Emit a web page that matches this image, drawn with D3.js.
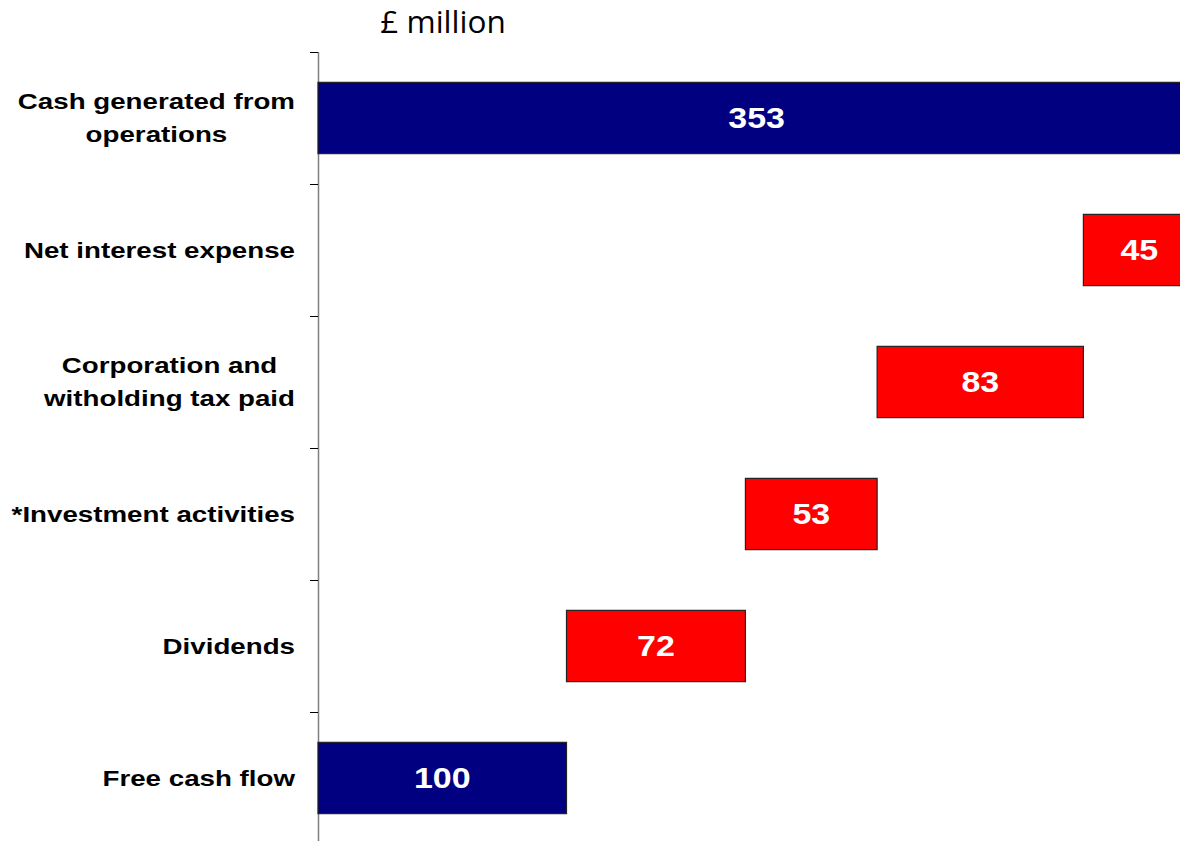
<!DOCTYPE html>
<html>
<head>
<meta charset="utf-8">
<script src="https://cdnjs.cloudflare.com/ajax/libs/d3/7.8.5/d3.min.js"></script>
<style>
  html, body { margin: 0; padding: 0; background: #fff; overflow: hidden; }
  svg { display: block; font-family: "Liberation Sans", Arial, sans-serif; }
  .cat { font-size: 22px; font-weight: bold; fill: #000; }
  .val { font-size: 29px; font-weight: bold; fill: #fff; }
  .unit { font-family: "Open Sans", "Noto Sans", sans-serif; font-size: 31.5px; fill: #000; }
</style>
</head>
<body>
<div id="chart"></div>
<script>
// categories top to bottom, each label split into lines
const categories = [
  ['Cash generated from', 'operations'],
  ['Net interest expense'],
  ['Corporation and', 'witholding tax paid'],
  ['*Investment activities'],
  ['Dividends'],
  ['Free cash flow']
];
const values = [353, 45, 83, 53, 72, 100];
const kinds = ['total', 'out', 'out', 'out', 'out', 'total'];

const width = 1180, height = 841;
const colors = { total: '#000080', out: '#ff0000' };
// the source text is drawn horizontally stretched
const catStretch = 1.26, valStretch = 1.17;

// running waterfall positions
let running = 0;
const bars = values.map((v, i) => {
  let start, end;
  if (kinds[i] === 'total') {
    start = 0; end = v; running = v;
  } else {
    end = running; start = running - v; running = start;
  }
  return { key: i, lines: categories[i], value: v, kind: kinds[i], start, end };
});

const svg = d3.select('#chart').append('svg')
  .attr('width', width)
  .attr('height', height);

// plot runs past the right edge of the page, as in the source
const x = d3.scaleLinear()
  .domain([0, d3.max(values)])
  .range([318, 318 + 353 * 2.485]);

const y = d3.scaleBand()
  .domain(bars.map(d => d.key))
  .range([52, 844])
  .paddingInner(0.46)
  .paddingOuter(0.23);

// axis line + ticks between categories
const tickYs = d3.range(bars.length + 1).map(i => 52 + i * y.step());
svg.append('line')
  .attr('x1', 318.5).attr('x2', 318.5)
  .attr('y1', 52).attr('y2', height)
  .attr('stroke', '#808080').attr('stroke-width', 1.5);
svg.selectAll('.tick')
  .data(tickYs)
  .enter().append('line')
  .attr('x1', 310).attr('x2', 318)
  .attr('y1', d => Math.round(d) + 0.5).attr('y2', d => Math.round(d) + 0.5)
  .attr('stroke', '#000').attr('stroke-width', 1);

svg.selectAll('.bar')
  .data(bars)
  .enter().append('rect')
  .attr('x', d => x(d.start))
  .attr('y', d => y(d.key))
  .attr('width', d => x(d.end) - x(d.start))
  .attr('height', y.bandwidth())
  .attr('fill', d => colors[d.kind])
  .attr('stroke', '#222').attr('stroke-width', 1.2);

svg.selectAll('.val')
  .data(bars)
  .enter().append('text')
  .attr('class', 'val')
  .attr('transform', d => `translate(${(x(d.start) + x(d.end)) / 2},${y(d.key) + y.bandwidth() / 2}) scale(${valStretch},1)`)
  .attr('dy', '0.36em')
  .attr('text-anchor', 'middle')
  .text(d => d.value);

// category labels: block right-aligned at 295, lines centred within block
const lineH = 33;
const labels = svg.selectAll('.cat')
  .data(bars)
  .enter().append('g')
  .attr('transform', d => `translate(295,${y(d.key) + y.bandwidth() / 2}) scale(${catStretch},1)`);
labels.each(function(d) {
  const g = d3.select(this);
  const texts = d.lines.map((t, i) => g.append('text')
    .attr('class', 'cat')
    .attr('y', (i - (d.lines.length - 1) / 2) * lineH)
    .attr('dy', '0.36em')
    .attr('text-anchor', 'middle')
    .text(t));
  const w = d3.max(texts, t => t.node().getComputedTextLength());
  texts.forEach(t => t.attr('x', -w / 2));
});

svg.append('text')
  .attr('class', 'unit')
  .attr('x', 443)
  .attr('y', 33)
  .attr('text-anchor', 'middle')
  .text('£ million');
</script>
</body>
</html>
